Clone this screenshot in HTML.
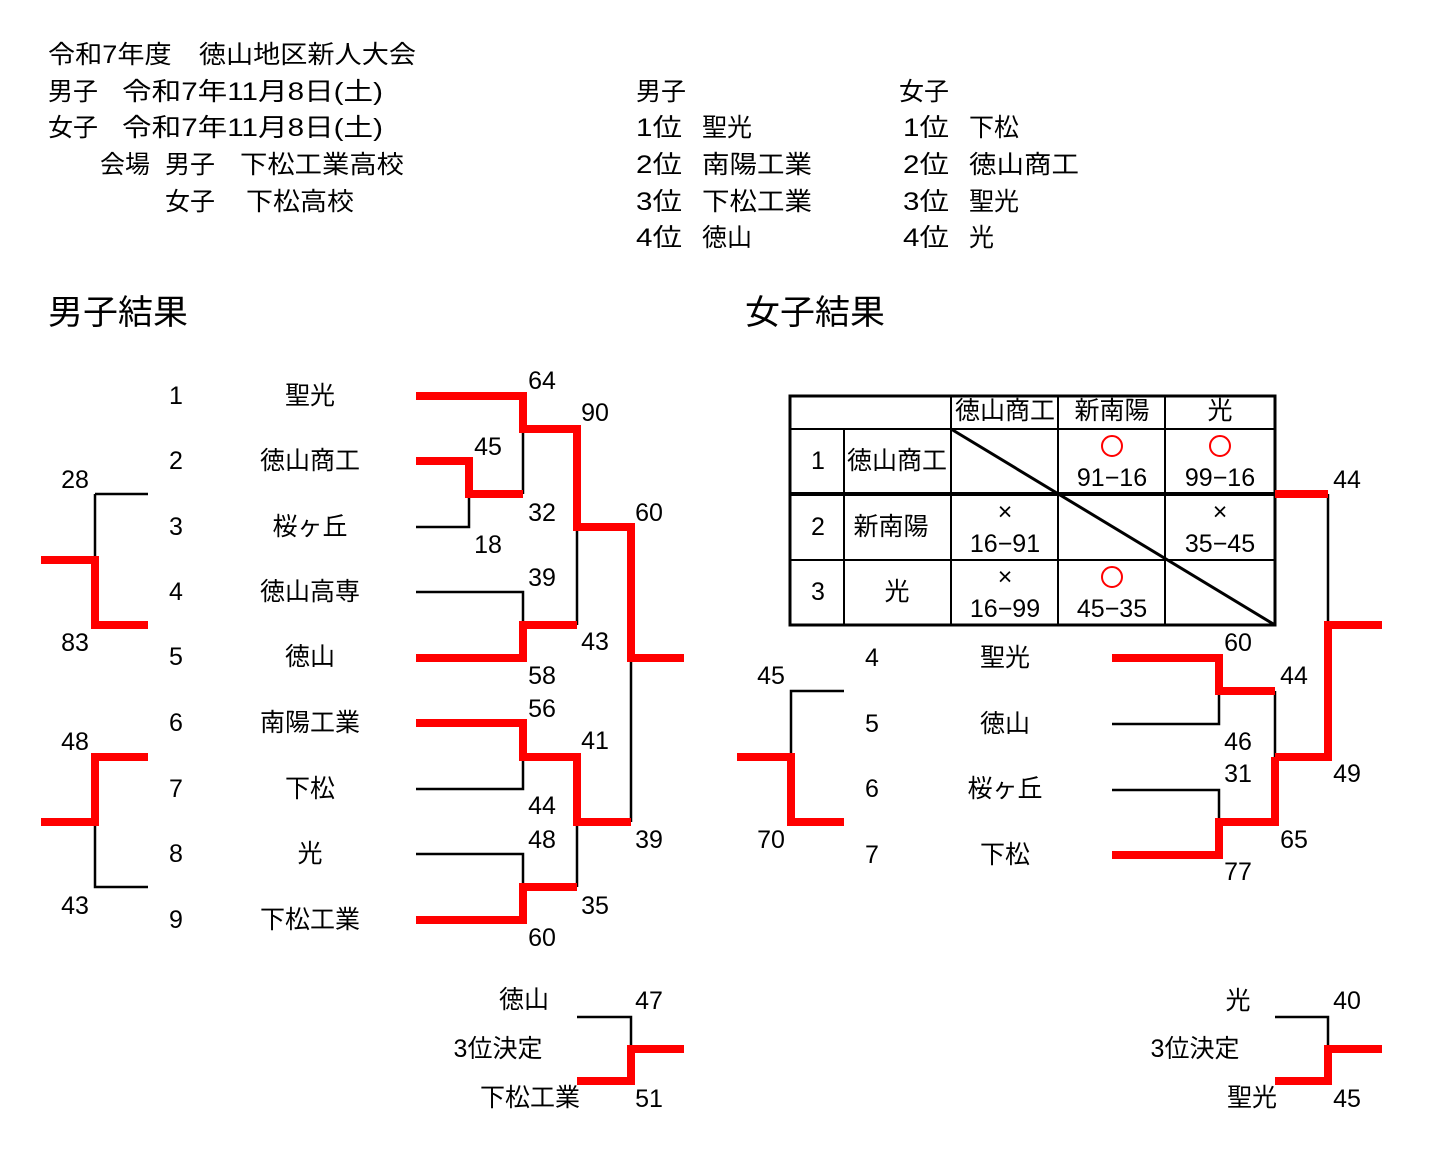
<!DOCTYPE html>
<html><head><meta charset="utf-8"><style>
html,body{margin:0;padding:0;background:#fff;}
svg{display:block;}
text{font-family:"Liberation Sans","Noto Sans CJK JP",sans-serif;font-size:25px;fill:#000;dominant-baseline:central;}
.c{text-anchor:middle;}
.r{stroke:#f00;stroke-width:8;fill:none;stroke-linecap:butt;stroke-linejoin:miter;}
.k{stroke:#000;stroke-width:2.5;fill:none;}
</style></head><body>
<svg width="1435" height="1157" viewBox="0 0 1435 1157">
<!-- header -->
<text x="48" y="55" textLength="368" lengthAdjust="spacingAndGlyphs">令和7年度　徳山地区新人大会</text>
<text x="48" y="92">男子</text>
<text x="122" y="92" textLength="261" lengthAdjust="spacingAndGlyphs">令和7年11月8日(土)</text>
<text x="48" y="128">女子</text>
<text x="122" y="128" textLength="261" lengthAdjust="spacingAndGlyphs">令和7年11月8日(土)</text>
<text x="100" y="165">会場</text>
<text x="165" y="165">男子</text>
<text x="240" y="165" textLength="164" lengthAdjust="spacingAndGlyphs">下松工業高校</text>
<text x="165" y="202">女子</text>
<text x="246" y="202" textLength="108" lengthAdjust="spacingAndGlyphs">下松高校</text>

<text x="636" y="92">男子</text>
<text x="636" y="128" textLength="46" lengthAdjust="spacingAndGlyphs">1位</text><text x="702" y="128">聖光</text>
<text x="636" y="165" textLength="46" lengthAdjust="spacingAndGlyphs">2位</text><text x="702" y="165" textLength="110" lengthAdjust="spacingAndGlyphs">南陽工業</text>
<text x="636" y="202" textLength="46" lengthAdjust="spacingAndGlyphs">3位</text><text x="702" y="202" textLength="110" lengthAdjust="spacingAndGlyphs">下松工業</text>
<text x="636" y="238" textLength="46" lengthAdjust="spacingAndGlyphs">4位</text><text x="702" y="238">徳山</text>
<text x="899" y="92">女子</text>
<text x="903" y="128" textLength="46" lengthAdjust="spacingAndGlyphs">1位</text><text x="969" y="128">下松</text>
<text x="903" y="165" textLength="46" lengthAdjust="spacingAndGlyphs">2位</text><text x="969" y="165" textLength="110" lengthAdjust="spacingAndGlyphs">徳山商工</text>
<text x="903" y="202" textLength="46" lengthAdjust="spacingAndGlyphs">3位</text><text x="969" y="202">聖光</text>
<text x="903" y="238" textLength="46" lengthAdjust="spacingAndGlyphs">4位</text><text x="969" y="238">光</text>

<text x="48" y="313" style="font-size:34px" textLength="140" lengthAdjust="spacingAndGlyphs">男子結果</text>
<text x="745" y="313" style="font-size:34px" textLength="140" lengthAdjust="spacingAndGlyphs">女子結果</text>

<!-- men labels -->
<text x="176" y="396" class="c">1</text><text x="310" y="396" class="c">聖光</text>
<text x="176" y="461" class="c">2</text><text x="310" y="461" class="c">徳山商工</text>
<text x="176" y="527" class="c">3</text><text x="310" y="527" class="c">桜ヶ丘</text>
<text x="176" y="592" class="c">4</text><text x="310" y="592" class="c">徳山高専</text>
<text x="176" y="657" class="c">5</text><text x="310" y="657" class="c">徳山</text>
<text x="176" y="723" class="c">6</text><text x="310" y="723" class="c">南陽工業</text>
<text x="176" y="789" class="c">7</text><text x="310" y="789" class="c">下松</text>
<text x="176" y="854" class="c">8</text><text x="310" y="854" class="c">光</text>
<text x="176" y="920" class="c">9</text><text x="310" y="920" class="c">下松工業</text>
<!-- men scores -->
<text x="542" y="381" class="c">64</text><text x="595" y="413" class="c">90</text>
<text x="488" y="447" class="c">45</text><text x="542" y="513" class="c">32</text>
<text x="488" y="545" class="c">18</text><text x="649" y="513" class="c">60</text>
<text x="542" y="578" class="c">39</text><text x="595" y="642" class="c">43</text>
<text x="542" y="676" class="c">58</text><text x="542" y="709" class="c">56</text>
<text x="595" y="741" class="c">41</text><text x="542" y="806" class="c">44</text>
<text x="542" y="840" class="c">48</text><text x="649" y="840" class="c">39</text>
<text x="595" y="906" class="c">35</text><text x="542" y="938" class="c">60</text>
<text x="75" y="480" class="c">28</text><text x="75" y="643" class="c">83</text>
<text x="75" y="742" class="c">48</text><text x="75" y="906" class="c">43</text>

<path class="k" d="M416 527H469V494 M523 429V494 M577 527V625 M416 592H523V625 M416 789H523V757 M416 854H523V887 M577 822V887 M631 658V822 M95 494H148 M95 494V560 M95 822V887H148"/>
<path class="r" d="M416 396H523V429H577V527H631V658H684 M416 461H469V494H523 M416 658H523V625H577 M416 723H523V757H577V822H631 M416 920H523V887H577 M41 560H95V625H148 M148 757H95V822H41"/>

<!-- men 3rd -->
<text x="524" y="1000" class="c">徳山</text>
<text x="498" y="1049" class="c">3位決定</text>
<text x="530" y="1098" class="c">下松工業</text>
<text x="649" y="1001" class="c">47</text><text x="649" y="1099" class="c">51</text>
<path class="k" d="M577 1017H631V1049"/>
<path class="r" d="M684 1049H631V1081H577"/>

<!-- women table -->
<g stroke="#000" fill="none">
<rect x="790" y="396" width="485" height="229" stroke-width="3"/>
<path stroke-width="2" d="M790 429H1275 M790 560H1275 M951 396V625 M1058 396V625 M1165 396V625 M844 429V625"/>
<path stroke-width="4" d="M790 494H1275"/>
<path stroke-width="3" d="M951 429L1275 625"/>
</g>
<text x="1005" y="411" class="c">徳山商工</text>
<text x="1112" y="411" class="c">新南陽</text>
<text x="1220" y="411" class="c">光</text>
<text x="818" y="461" class="c">1</text><text x="897" y="461" class="c">徳山商工</text>
<text x="818" y="527" class="c">2</text><text x="891" y="527" class="c">新南陽</text>
<text x="818" y="592" class="c">3</text><text x="897" y="592" class="c">光</text>
<circle cx="1112" cy="446" r="10" stroke="#f00" stroke-width="2" fill="none"/>
<circle cx="1220" cy="446" r="10" stroke="#f00" stroke-width="2" fill="none"/>
<circle cx="1112" cy="577" r="10" stroke="#f00" stroke-width="2" fill="none"/>
<text x="1112" y="478" class="c">91−16</text><text x="1220" y="478" class="c">99−16</text>
<text x="1005" y="512" class="c">×</text><text x="1005" y="544" class="c">16−91</text>
<text x="1220" y="512" class="c">×</text><text x="1220" y="544" class="c">35−45</text>
<text x="1005" y="577" class="c">×</text><text x="1005" y="609" class="c">16−99</text>
<text x="1112" y="609" class="c">45−35</text>

<!-- women bracket -->
<text x="872" y="658" class="c">4</text><text x="1005" y="658" class="c">聖光</text>
<text x="872" y="724" class="c">5</text><text x="1005" y="724" class="c">徳山</text>
<text x="872" y="789" class="c">6</text><text x="1005" y="789" class="c">桜ヶ丘</text>
<text x="872" y="855" class="c">7</text><text x="1005" y="855" class="c">下松</text>
<text x="1347" y="480" class="c">44</text>
<text x="1238" y="643" class="c">60</text><text x="1294" y="676" class="c">44</text>
<text x="1238" y="742" class="c">46</text><text x="1238" y="774" class="c">31</text>
<text x="1347" y="774" class="c">49</text><text x="1294" y="840" class="c">65</text>
<text x="1238" y="872" class="c">77</text>
<text x="771" y="676" class="c">45</text><text x="771" y="840" class="c">70</text>
<path class="k" d="M1328 494V625 M1112 724H1219V691 M1275 691V757 M1112 790H1219V822 M844 691H791V757"/>
<path class="r" d="M1275 494H1328 M1382 625H1328V757H1275 M1112 658H1219V691H1275 M1112 855H1219V822H1275V757 M737 757H791V822H844"/>

<!-- women 3rd -->
<text x="1238" y="1001" class="c">光</text>
<text x="1195" y="1049" class="c">3位決定</text>
<text x="1252" y="1098" class="c">聖光</text>
<text x="1347" y="1001" class="c">40</text><text x="1347" y="1099" class="c">45</text>
<path class="k" d="M1275 1017H1328V1049"/>
<path class="r" d="M1382 1049H1328V1081H1275"/>
</svg>
</body></html>
